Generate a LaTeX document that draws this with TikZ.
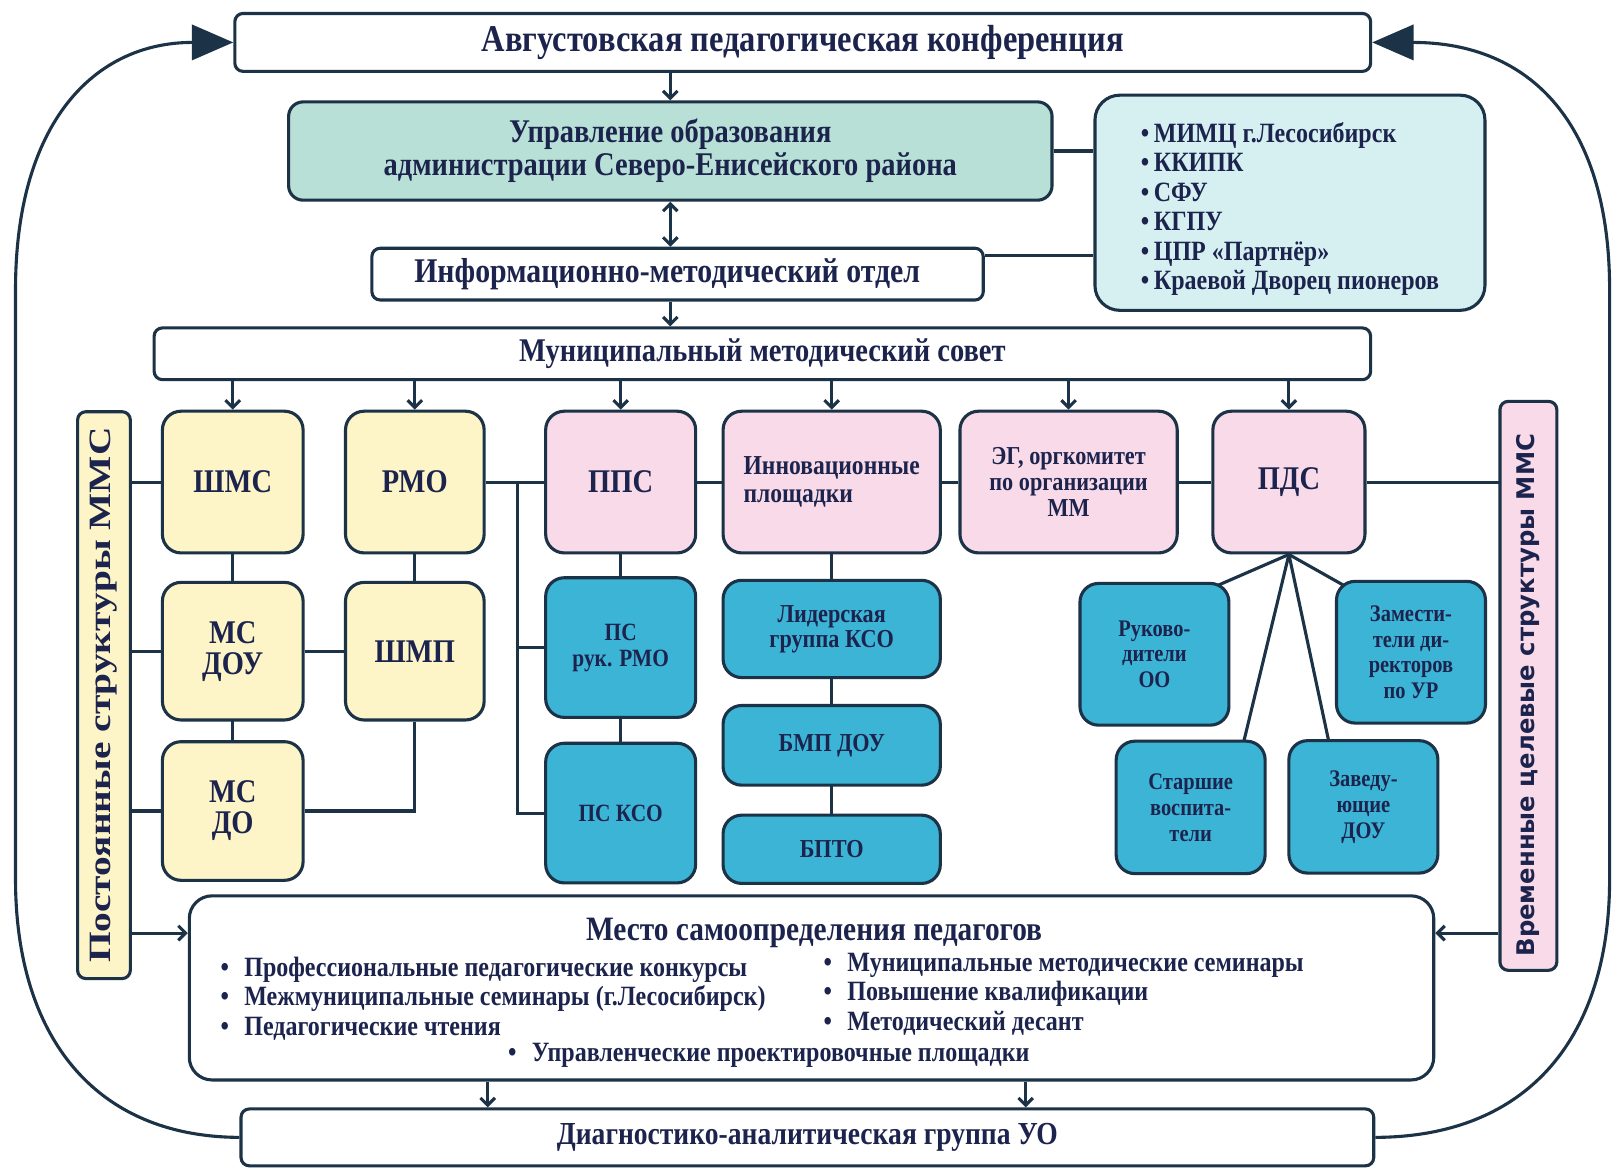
\documentclass[tikz,border=0pt]{standalone}
\usepackage{fontspec}
\setmainfont{Liberation Serif}[FakeStretch=0.86]
\newfontfamily\tallfont{Liberation Serif}[FakeStretch=1.27]
\newfontfamily\barsans{DejaVu Sans}
\usetikzlibrary{arrows.meta,backgrounds}

\definecolor{edge}{RGB}{28,50,70}
\definecolor{ink}{RGB}{28,36,78}
\definecolor{cream}{RGB}{253,245,200}
\definecolor{rose}{RGB}{248,218,232}
\definecolor{sea}{RGB}{60,180,214}
\definecolor{mint}{RGB}{184,224,214}
\definecolor{ice}{RGB}{214,240,242}

\newcommand{\fz}[2]{\fontsize{#1}{#2}\selectfont}
\newcommand{\itm}{\makebox[23pt][l]{•}}

\tikzset{
  sz/.style 2 args={minimum width=#1pt, minimum height=#2pt},
  fsz/.style 2 args={font=\bfseries\fz{#1}{#2}},
  cell/.style={draw=edge, line width=3pt, rounded corners=18pt, text=ink,
    align=center, inner sep=0pt},
  wbox/.style={cell, fill=white, rounded corners=8pt},
  sbar/.style={cell, rounded corners=8pt},
  wire/.style={draw=edge, line width=3pt},
  arrw/.style={wire, -{Straight Barb[length=7pt,width=14pt]}},
  loopback/.style={wire, -{Triangle[length=40pt,width=34pt]}}
}

\begin{document}
\begin{tikzpicture}[x=1pt, y=-1pt]
  \begin{scope}[on background layer]
    \fill[white] (0,0) rectangle (1568,1130);
  \end{scope}
  \useasboundingbox (0,0) rectangle (1568,1130);

  % upper part
  \node[wbox, sz={1098}{56}, fsz={36.5}{38}] (konf) at (776,41) {Августовская педагогическая конференция};
  \node[cell, fill=mint, rounded corners=14pt, sz={738}{95}, fsz={32}{32}] (uo) at (648,146)
    {Управление образования\\администрации Северо-Енисейского района};
  \node[cell, fill=ice, rounded corners=24pt, sz={377}{208},
    label={[align=left, text=ink, fsz={27}{28.5}, yshift=-6pt]center:{•\,МИМЦ г.Лесосибирск\\•\,ККИПК\\•\,СФУ\\•\,КГПУ\\•\,ЦПР «Партнёр»\\•\,Краевой Дворец пионеров}}] (vuz) at (1247,196) {};
  \node[wbox, sz={591}{50}, fsz={33.5}{34}] (imo) at (655,265) {\hspace*{-20pt}Информационно-методический отдел};
  \node[wbox, sz={1176}{50}, fsz={32}{34}] (mms) at (737,342) {Муниципальный методический совет};

  % side bars
  \node[sbar, fill=cream, sz={51}{548},
    label={[rotate=90, text=ink, font=\tallfont\bfseries\fz{30}{30}]center:Постоянные структуры ММС}] (lbar) at (100.5,672) {};
  \node[sbar, fill=rose, sz={55}{550},
    label={[yshift=-9pt, rotate=90, text=ink, font=\barsans\bfseries\fz{23.5}{24}]center:Временные целевые структуры ММС}] (rbar) at (1477.5,663) {};

  % first row
  \node[cell, fill=cream, sz={136}{137}, fsz={32}{30}] (shms) at (225,466) {ШМС};
  \node[cell, fill=cream, sz={134}{137}, fsz={32}{30}] (rmo) at (401,466) {РМО};
  \node[cell, fill=rose, sz={145}{137}, fsz={32}{30}] (pps) at (600,466) {ППС};
  \node[cell, fill=rose, sz={210}{137}, fsz={26.5}{27}, align=left] (innov) at (804,466) {Инновационные\\площадки};
  \node[cell, fill=rose, sz={210}{137}, fsz={25}{25}] (eg) at (1033,466) {ЭГ, оргкомитет\\по организации\\ММ};
  \node[cell, fill=rose, sz={147}{137}, fsz={32}{30}] (pds) at (1246,466) {ПДС};

  % lower rows
  \node[cell, fill=cream, sz={136}{133}, fsz={32}{30}] (msdou) at (225,629.5) {МС\\ДОУ};
  \node[cell, fill=cream, sz={134}{133}, fsz={32}{30}] (shmp) at (401,629.5) {ШМП};
  \node[cell, fill=cream, sz={136}{134}, fsz={32}{30}] (msdo) at (225,784) {МС\\ДО};
  \node[cell, fill=sea, sz={145}{135}, fsz={24}{25}] (psrmo) at (600,626) {ПС\\рук. РМО};
  \node[cell, fill=sea, sz={145}{135}, fsz={24}{25}] (psks) at (600,786) {ПС КСО};
  \node[cell, fill=sea, sz={210}{94}, fsz={25}{24}] (lider) at (804,608) {Лидерская\\группа КСО};
  \node[cell, fill=sea, sz={210}{77}, fsz={25}{24}] (bmp) at (804,720.5) {БМП ДОУ};
  \node[cell, fill=sea, sz={210}{66}, fsz={25}{24}] (bpto) at (804,821) {БПТО};
  \node[cell, fill=sea, sz={144}{137}, fsz={23}{25}] (ruk) at (1116,632.5) {Руково-\\дители\\ОО};
  \node[cell, fill=sea, sz={144}{137}, fsz={23}{25}] (zam) at (1364,630.5) {Замести-\\тели ди-\\ректоров\\по УР};
  \node[cell, fill=sea, sz={144}{128}, fsz={23}{25}] (star) at (1151,780.5) {Старшие\\воспита-\\тели};
  \node[cell, fill=sea, sz={144}{128}, fsz={23}{25}] (zav) at (1318,780) {Заведу-\\ющие\\ДОУ};

  % self-determination block
  \node[wbox, rounded corners=22pt, sz={1203}{178}] (mesto) at (784.5,955) {};
  \node[text=ink, fsz={33}{34}] (mtitle) at (787,902) {Место самоопределения педагогов};
  \node[text=ink, fsz={27}{28.5}, align=left, anchor=north west, inner sep=0pt] (mleft) at (213,925)
    {\itm Профессиональные педагогические конкурсы\\\itm Межмуниципальные семинары (г.Лесосибирск)\\\itm Педагогические чтения};
  \node[text=ink, fsz={27}{28.5}, align=left, anchor=north west, inner sep=0pt] (mright) at (796,921)
    {\itm Муниципальные методические семинары\\\itm Повышение квалификации\\\itm Методический десант};
  \node[text=ink, fsz={27}{28.5}, anchor=north west, inner sep=0pt] (mlast) at (491,1008)
    {\itm Управленческие проектировочные площадки};
  \node[wbox, sz={1095}{55}, fsz={31}{32}] (diag) at (780.5,1099.5) {Диагностико-аналитическая группа УО};

  % connectors
  \begin{scope}[on background layer]
    \coordinate (br) at (500,466);
    \draw[wire] (uo.east) -- (uo.east -| vuz.west);
    \draw[wire] ([yshift=18pt]imo.east) -- ([yshift=18pt]imo.east -| vuz.west);
    \draw[wire] (lbar.east |- shms) -- (shms);
    \draw[wire] (lbar.east |- msdou) -- (msdou);
    \draw[wire] (lbar.east |- msdo) -- (msdo);
    \draw[wire] (shms) -- (msdo);
    \draw[wire] (rmo) -- (shmp) |- (msdo);
    \draw[wire] (msdou) -- (shmp);
    \draw[wire] (rmo) -- (pps) -- (innov) -- (eg) -- (pds) -- (pds -| rbar);
    \draw[wire] (br) |- (psks);
    \draw[wire] (br |- psrmo) -- (psrmo);
    \draw[wire] (pps) -- (psks);
    \draw[wire] (innov) -- (bpto);
    \draw[wire] (pds.south) -- ([yshift=40pt]ruk.center);
    \draw[wire] (pds.south) -- ([yshift=28pt]zam.center);
    \draw[wire] (pds.south) -- ([xshift=36pt]star.center);
    \draw[wire] (pds.south) -- ([xshift=-20pt]zav.center);
  \end{scope}

  \draw[arrw] (konf.south -| uo) -- (uo.north);
  \draw[wire, {Straight Barb[length=7pt,width=14pt]}-{Straight Barb[length=7pt,width=14pt]}] (uo.south) -- (uo.south |- imo.north);
  \draw[arrw] (imo.south -| uo) -- (mms.north -| uo);
  \foreach \n in {shms,rmo,pps,innov,eg,pds}
    \draw[arrw] (mms.south -| \n) -- (\n.north);
  \draw[arrw] (lbar.east |- mtitle) -- (mesto.west |- mtitle);
  \draw[arrw] (rbar.west |- mtitle) -- (mesto.east |- mtitle);
  \draw[arrw] ([xshift=-313pt]mesto.south) -- ([xshift=-313pt]mesto.south |- diag.north);
  \draw[arrw] ([xshift=207pt]mesto.south) -- ([xshift=207pt]mesto.south |- diag.north);

  % feedback loops
  \draw[loopback] (diag.west) .. controls (90,1099) and (15,1000) .. (15,850) -- (15,280)
    .. controls (15,120) and (90,41) .. (konf.west);
  \draw[loopback] (diag.east) .. controls (1480,1099) and (1556,1000) .. (1556,850) -- (1556,280)
    .. controls (1556,120) and (1480,41) .. (konf.east);
\end{tikzpicture}
\end{document}
